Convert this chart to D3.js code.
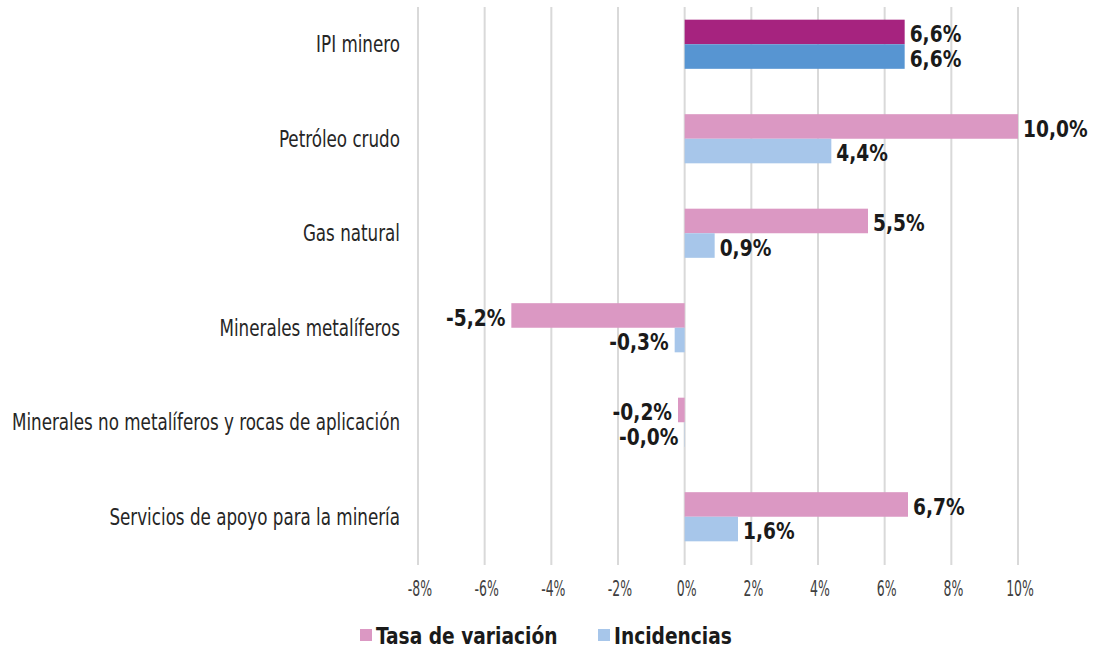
<!DOCTYPE html>
<html lang="es">
  <head>
    <meta charset="utf-8">
    <title>IPI minero</title>
    <style>
      body { margin: 0; background: #fff; }
      text { font-family: "DejaVu Sans Condensed", "DejaVu Sans", sans-serif; }
    </style>
  </head>
  <body>
    <script src="https://cdn.jsdelivr.net/npm/d3@7"></script>
    <div id="chart"></div>
    <script>

    // data
    var categories = ["IPI minero", "Petróleo crudo", "Gas natural", "Minerales metalíferos",
                      "Minerales no metalíferos y rocas de aplicación", "Servicios de apoyo para la minería"];
    var tasa = [6.6, 10.0, 5.5, -5.2, -0.2, 6.7];
    var incidencias = [6.6, 4.4, 0.9, -0.3, -0.01, 1.6];
    var xTicks = [-8, -6, -4, -2, 0, 2, 4, 6, 8, 10];
    var seriesNames = ["Tasa de variación", "Incidencias"];

    var width = 1096, height = 650;
    var colors = ["#DB98C3", "#A7C6EA"];
    var firstColors = ["#A6237F", "#5795D2"];   // IPI minero total is highlighted

    var svg = d3.select("#chart").append("svg")
      .attr("width", width).attr("height", height);

    var x = d3.scaleLinear().domain([-8, 10]).range([418, 1018]);
    var y = d3.scaleBand().domain(categories).range([-3, 564]).paddingInner(0.48).paddingOuter(0.24);
    var y2 = d3.scaleBand().domain([0, 1]).range([0, y.bandwidth()]);

    // gridlines
    svg.append("g").selectAll("line")
      .data(xTicks).enter().append("line")
        .attr("x1", function(d){ return x(d) }).attr("x2", function(d){ return x(d) })
        .attr("y1", 7).attr("y2", 565)
        .style("stroke", "#d9d9d9").style("stroke-width", 2);

    // tick labels (squeezed to look condensed)
    svg.append("g").selectAll("text")
      .data(xTicks).enter().append("text")
        .attr("transform", function(d){ return "translate(" + (x(d) + 2) + ",596) scale(0.66,1)" })
        .attr("text-anchor", "middle")
        .attr("font-size", "21px").attr("fill", "#404040")
        .text(function(d){ return d + "%" });

    // category labels
    svg.append("g").selectAll("text")
      .data(categories).enter().append("text")
        .attr("transform", function(d){ return "translate(400," + (y(d) + y.bandwidth() / 2) + ") scale(0.81,1)" })
        .attr("dy", "0.35em").attr("text-anchor", "end")
        .attr("font-size", "23px").attr("fill", "#262626")
        .text(function(d){ return d });

    var rows = [];
    categories.forEach(function(c, i) {
      rows.push({cat: c, s: 0, v: tasa[i], idx: i});
      rows.push({cat: c, s: 1, v: incidencias[i], idx: i});
    });

    function fmt(v) { return v.toFixed(1).replace(".", ",") + "%"; }

    // bars
    svg.append("g").selectAll("rect")
      .data(rows).enter().append("rect")
        .attr("x", function(d){ return x(Math.min(0, d.v)) })
        .attr("y", function(d){ return y(d.cat) + y2(d.s) })
        .attr("width", function(d){ return Math.abs(x(d.v) - x(0)) })
        .attr("height", y2.bandwidth())
        .style("fill", function(d){ return d.idx === 0 ? firstColors[d.s] : colors[d.s] });

    // value labels
    svg.append("g").selectAll("text")
      .data(rows).enter().append("text")
        .attr("transform", function(d){
          var lx = d.v >= 0 ? x(d.v) + 5 : x(d.v) - 6;
          return "translate(" + lx + "," + (y(d.cat) + y2(d.s) + y2.bandwidth() / 2 + 2) + ") scale(0.9,1)";
        })
        .attr("dy", "0.35em")
        .attr("text-anchor", function(d){ return d.v >= 0 ? "start" : "end" })
        .attr("font-size", "23px").attr("font-weight", "bold").attr("fill", "#1a1a1a")
        .text(function(d){ return fmt(d.v) });

    // legend
    var legend = svg.append("g").selectAll("g")
      .data(seriesNames).enter().append("g")
        .attr("transform", function(d, i){ return "translate(" + [360, 598][i] + ",636)" });
    legend.append("rect")
      .attr("x", 0).attr("y", -7).attr("width", 12).attr("height", 12)
      .style("fill", function(d, i){ return colors[i] });
    legend.append("text")
      .attr("transform", "translate(16,0) scale(0.9,1)")
      .attr("dy", "0.35em")
      .attr("font-size", "23px").attr("font-weight", "bold").attr("fill", "#1a1a1a")
      .text(function(d){ return d });

    </script>
  </body>
</html>
